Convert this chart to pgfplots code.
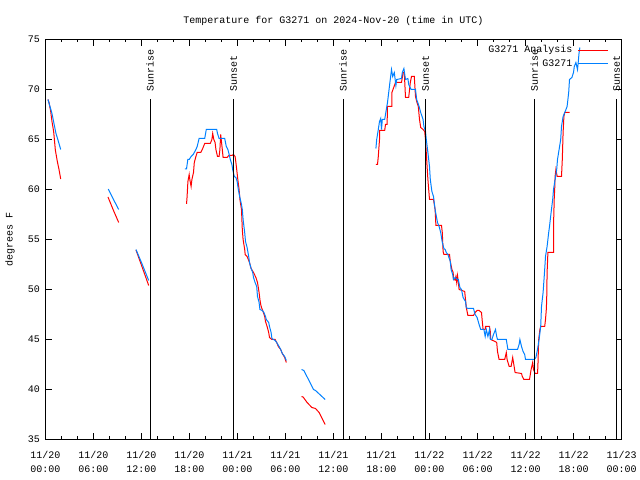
\documentclass[border=0pt]{standalone}
\usepackage{pgfplots}
\pgfplotsset{compat=1.18}
\usepackage{fontspec}
\setmainfont{Liberation Mono}
\definecolor{gred}{RGB}{255,0,0}
\definecolor{gblue}{RGB}{0,128,255}
\begin{document}
\fontsize{10bp}{12bp}\selectfont
\begin{tikzpicture}
\path[use as bounding box] (-45.5bp,-40.5bp) rectangle (594.5bp,439.5bp);
\begin{axis}[
 at={(0,0)}, anchor=south west,
 scale only axis, width=576bp, height=400bp,
 xmin=0, xmax=72, ymin=35, ymax=75,
 xtick={0,6,...,72},
 xticklabels={{11/20\\00:00},{11/20\\06:00},{11/20\\12:00},{11/20\\18:00},{11/21\\00:00},{11/21\\06:00},{11/21\\12:00},{11/21\\18:00},{11/22\\00:00},{11/22\\06:00},{11/22\\12:00},{11/22\\18:00},{11/23\\00:00}},
 minor xtick={2,4,8,10,14,16,20,22,26,28,32,34,38,40,44,46,50,52,56,58,62,64,68,70},
 ytick={35,40,...,75},
 tick align=inside, xtick pos=both, ytick pos=both,
 major tick length=6bp, minor tick length=3bp,
 tick style={black, line width=0.8bp},
 axis line style={black, line width=1bp},
 /pgf/number format/assume math mode=true,
 xticklabel style={align=center, font=\fontsize{10bp}{14bp}\selectfont, yshift=-8bp},
 yticklabel style={font=\fontsize{10bp}{12bp}\selectfont, xshift=-2bp},
 clip=false,
 unbounded coords=jump,
 legend style={at={(rel axis cs:1,1)}, anchor=north east, xshift=-10bp, yshift=-2bp, draw=none, fill=none, font=\fontsize{10bp}{12bp}\selectfont, row sep=1bp, column sep=3bp},
 legend cell align=right, legend plot pos=right,
 legend image code/.code={\draw[#1] (0bp,0bp) -- (30bp,0bp);},
]
\addplot[gred, line width=1bp] coordinates {
(0.31,69.0) (0.44,68.7) (0.65,67.8) (0.81,66.8) (1.02,65.8) (1.23,63.95) (1.48,62.8) (1.69,62.0) (1.9,61.05)
(1.95,nan)
(7.81,59.25) (8.5,57.9) (9.15,56.7)
(9.2,nan)
(11.31,53.95) (12.1,52.2) (12.9,50.4)
(13,nan)
(17.63,58.57) (17.7,59.3) (17.8,60.8) (17.96,61.5) (18.04,61.0) (18.2,60.3) (18.3,61.0) (18.5,61.7) (18.6,62.7) (18.8,63.3) (18.96,63.7) (19.4,63.7) (19.6,64.0) (19.9,64.6) (20.6,64.6) (20.8,65.0) (20.9,65.6) (21.04,65.0) (21.2,64.7) (21.3,64.0) (21.5,63.3) (21.7,63.3) (21.8,64.0) (21.9,65.5) (22.1,64.0) (22.2,63.2) (22.7,63.2) (22.9,63.4) (23.3,63.4) (23.5,63.5) (23.7,63.3) (23.8,62.7) (23.9,62.0) (24.04,61.0) (24.2,60.0) (24.3,59.0) (24.5,58.0) (24.55,57.0) (24.6,56.0) (24.7,55.0) (24.9,54.0) (24.96,53.5) (25.2,53.3) (25.5,52.7) (25.7,52.1) (26.0,51.7) (26.3,51.2) (26.5,50.7) (26.7,49.7) (26.8,49.0) (26.9,48.5) (27.0,48.2) (27.2,47.8) (27.4,47.3) (27.5,46.8) (27.7,46.3) (27.9,45.7) (28.0,45.2) (28.3,45.0) (28.7,45.0) (28.9,44.7) (29.1,44.3) (29.4,44.0) (29.6,43.6) (29.9,43.2) (30.1,42.7)
(30.2,nan)
(32.0,39.3) (32.2,39.25) (32.7,38.7) (33.3,38.2) (33.75,38.1) (34.2,37.7) (34.96,36.5)
(35,nan)
(41.3,62.5) (41.5,62.5) (41.6,63.3) (41.75,65.0) (41.75,65.9) (42.4,65.9) (42.5,66.5) (42.7,66.5) (42.75,68.3) (43.3,68.3) (43.3,69.7) (43.75,70.7) (44.5,70.7) (44.7,71.7) (44.85,71.7) (45.0,69.2) (45.4,69.2) (45.6,70.7) (45.75,71.3) (46.1,71.3) (46.25,69.3) (46.4,68.8) (46.6,68.3) (46.75,67.0) (46.9,66.2) (47.2,66.0) (47.4,65.8) (47.5,65.0) (47.7,62.3) (47.8,61.0) (47.9,60.0) (48.0,59.0) (48.5,59.0) (48.7,58.0) (48.8,56.4) (49.5,56.4) (49.6,55.7) (49.7,53.8) (49.8,53.5) (50.5,53.5) (50.6,52.8) (50.8,52.0) (50.96,51.7) (51.0,51.0) (51.2,50.95) (51.3,51.3) (51.4,50.7) (51.5,51.4) (51.6,50.8) (51.7,50.0) (51.9,49.95) (52.4,49.8) (52.5,49.0) (52.6,48.2) (52.8,47.4) (53.5,47.4) (53.7,47.7) (53.95,47.9) (54.2,47.9) (54.5,47.7) (54.6,46.8) (54.7,46.0) (54.96,46.0) (55.0,46.3) (55.5,46.3) (55.6,45.8) (55.65,45.0) (56.2,44.8) (56.4,44.7) (56.5,43.8) (56.7,43.0) (57.4,43.0) (57.6,43.7) (57.7,43.0) (57.96,42.3) (58.2,42.3) (58.4,43.2) (58.5,42.7) (58.7,41.7) (59.5,41.6) (59.6,41.3) (59.8,41.0) (60.5,41.0) (60.7,42.0) (60.9,42.7) (61.0,42.0) (61.2,41.6) (61.5,41.6) (61.55,42.3) (61.6,43.7) (61.65,45.0) (61.8,46.0) (61.9,46.3) (62.4,46.3) (62.5,47.0) (62.6,48.0) (62.65,49.0) (62.7,51.7) (62.8,53.7) (63.5,53.7) (63.5,56.3) (63.6,59.3) (63.65,60.0) (63.7,61.3) (63.8,62.0) (63.96,61.3) (64.5,61.3) (64.6,63.0) (64.7,65.7) (64.8,67.3) (64.9,67.7) (65.5,67.7)
};
\addlegendentry{G3271 Analysis}
\addplot[gblue, line width=1bp] coordinates {
(0.31,69.0) (0.56,68.3) (0.81,67.6) (1.06,66.6) (1.31,65.6) (1.56,64.95) (1.9,64.0)
(1.95,nan)
(7.85,60.05) (8.5,59.0) (9.15,58.0)
(9.2,nan)
(11.31,54.0) (12.1,52.5) (12.9,50.9)
(13,nan)
(17.41,62.07) (17.63,62.07) (17.79,63.0) (17.96,63.0) (18.2,63.3) (18.46,63.5) (18.6,63.7) (18.8,64.0) (18.96,64.3) (19.2,65.1) (19.9,65.1) (20.1,66.0) (21.4,66.0) (21.5,65.6) (21.7,65.1) (22.4,65.1) (22.5,64.7) (22.6,64.3) (22.8,64.0) (22.96,63.5) (23.1,63.0) (23.3,62.5) (23.4,62.0) (23.6,61.3) (23.8,61.2) (23.96,60.8) (24.1,60.0) (24.3,59.2) (24.5,58.5) (24.6,58.0) (24.7,57.0) (24.9,55.7) (25.0,54.8) (25.2,54.2) (25.4,53.3) (25.5,52.7) (25.7,52.1) (25.9,51.7) (26.0,51.2) (26.2,50.7) (26.4,50.3) (26.5,49.3) (26.7,48.7) (26.8,48.0) (27.1,47.9) (27.3,47.7) (27.5,47.3) (27.6,47.0) (27.9,46.7) (28.0,46.3) (28.2,45.7) (28.3,45.1) (28.7,44.9) (28.9,44.7) (29.2,44.3) (29.4,44.0) (29.6,43.6) (29.9,43.3) (30.1,42.9)
(30.2,nan)
(32.0,42.0) (32.3,41.9) (33.5,40.0) (33.75,39.9) (34.96,39.0)
(35,nan)
(41.3,64.1) (41.4,65.0) (41.6,66.0) (41.75,66.8) (41.9,67.1) (42.0,66.0) (42.1,67.0) (42.4,67.0) (42.5,67.5) (42.75,68.7) (42.9,69.7) (43.05,70.7) (43.25,72.0) (43.4,71.3) (43.6,71.7) (43.8,70.4) (43.9,71.0) (44.5,71.1) (44.6,71.7) (44.8,72.1) (45.0,71.0) (45.3,71.1) (45.4,70.5) (45.7,70.0) (46.25,70.0) (46.4,69.0) (46.7,68.3) (46.9,67.7) (47.2,67.0) (47.3,66.3) (47.5,65.8) (47.6,65.0) (47.8,63.7) (48.0,62.3) (48.1,61.0) (48.3,59.8) (48.5,59.3) (48.7,58.0) (49.0,56.7) (49.2,56.3) (49.4,55.7) (49.6,54.7) (49.8,54.1) (49.96,54.0) (50.1,53.7) (50.3,53.5) (50.6,52.8) (50.7,52.0) (50.9,51.5) (51.0,51.0) (51.2,51.2) (51.5,51.0) (51.6,51.0) (51.8,50.2) (52.0,50.0) (52.2,49.2) (52.5,48.8) (52.6,48.2) (52.8,48.1) (53.5,48.1) (53.7,47.5) (53.95,47.2) (54.2,46.5) (54.4,46.0) (54.8,46.0) (54.96,45.3) (55.1,46.0) (55.3,45.3) (55.5,46.0) (55.6,45.0) (55.8,45.0) (56.0,45.5) (56.25,46.0) (56.4,45.3) (56.5,45.0) (57.6,45.0) (57.8,44.0) (59.0,44.0) (59.2,44.5) (59.3,45.0) (59.5,44.3) (59.7,43.8) (59.9,43.5) (60.0,43.0) (61.1,43.0) (61.3,43.2) (61.5,44.0) (61.7,45.0) (61.9,46.3) (62.0,48.3) (62.2,49.7) (62.4,52.0) (62.5,53.3) (62.7,54.3) (62.9,55.7) (63.0,56.3) (63.2,57.7) (63.4,59.0) (63.5,60.0) (63.7,61.0) (63.9,62.0) (64.0,63.0) (64.2,64.0) (64.4,65.0) (64.5,66.3) (64.7,67.3) (64.96,67.8) (65.2,68.3) (65.4,69.7) (65.5,71.0) (65.8,71.2) (66.0,71.7) (66.1,72.3) (66.3,72.7) (66.5,72.0) (66.6,72.8) (66.7,73.7) (66.8,74.2)
};
\addlegendentry{G3271}
% sunrise / sunset markers
\addplot[black, line width=1bp, forget plot] coordinates {(13.08,35) (13.08,69.05) (13.08,nan) (23.5,35) (23.5,69.05) (23.5,nan) (37.2,35) (37.2,69.05) (37.2,nan) (47.5,35) (47.5,69.05) (47.5,nan) (61.1,35) (61.1,69.05) (61.1,nan) (71.4,35) (71.4,69.05)};
\node[rotate=90, anchor=west, inner sep=0pt] at (axis cs:13.08,69.75) {Sunrise};
\node[rotate=90, anchor=west, inner sep=0pt] at (axis cs:23.5,69.75) {Sunset};
\node[rotate=90, anchor=west, inner sep=0pt] at (axis cs:37.2,69.75) {Sunrise};
\node[rotate=90, anchor=west, inner sep=0pt] at (axis cs:47.5,69.75) {Sunset};
\node[rotate=90, anchor=west, inner sep=0pt] at (axis cs:61.1,69.75) {Sunrise};
\node[rotate=90, anchor=west, inner sep=0pt] at (axis cs:71.4,69.75) {Sunset};
\end{axis}
\node[anchor=base] at (288bp,416bp) {Temperature for G3271 on 2024-Nov-20 (time in UTC)};
\node[rotate=90, anchor=center] at (-35.5bp,200bp) {degrees F};
\end{tikzpicture}
\end{document}
